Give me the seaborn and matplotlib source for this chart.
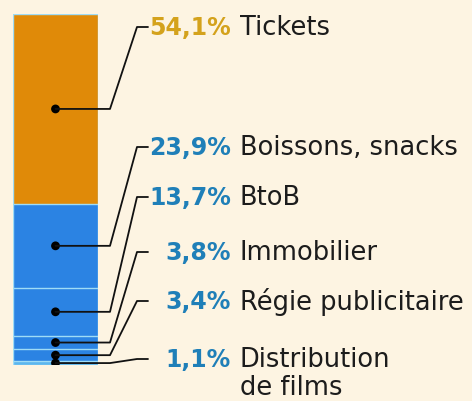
import numpy as np
import pandas as pd
import seaborn as sns
import matplotlib.pyplot as plt
from matplotlib.lines import Line2D

# data, top to bottom of the stacked bar
categories = ["Tickets", "Boissons, snacks", "BtoB", "Immobilier",
              "Régie publicitaire", "Distribution\nde films"]
shares = [54.1, 23.9, 13.7, 3.8, 3.4, 1.1]
pct_labels = ["54,1%", "23,9%", "13,7%", "3,8%", "3,4%", "1,1%"]

seg_colors = ["#e08a08", "#2b83e3", "#2b83e3", "#2b83e3", "#2b83e3", "#5cb6ee"]
pct_colors = ["#d4a21c"] + ["#1f7fb8"] * 5
BG = "#fdf4e2"

# layout in pixels (472x402 canvas)
W, H = 472, 402
BAR_L, BAR_R, BAR_T, BAR_B = 13, 98, 15, 366
ELBOW_X, DIAG_X, DASH_X = 110, 137, 148
PCT_X, NAME_X = 231, 240
label_y = [28, 148, 198, 253, 302, 360]
LINE_GAP = 28

sns.set_style("white")
plt.rcParams["font.family"] = ["DejaVu Sans"]

fig = plt.figure(figsize=(W / 100, H / 100), dpi=100, facecolor=BG)
ax = fig.add_axes([BAR_L / W, 1 - BAR_B / H, (BAR_R - BAR_L) / W, (BAR_B - BAR_T) / H])
ax.set_facecolor(BG)

df = pd.DataFrame({"cat": categories, "share": shares})
df["end"] = df["share"].cumsum()
df["mid"] = df["end"] - df["share"] / 2

# stacked bar: draw cumulative bars from the longest to the shortest
for i in reversed(range(len(df))):
    sns.barplot(x=[0], y=[df["end"][i]], color=seg_colors[i], width=1,
                edgecolor="#9fdcf6", linewidth=1.0, saturation=1, ax=ax)

sns.scatterplot(x=np.zeros(len(df)), y=df["mid"], color="black", s=40,
                edgecolor="none", zorder=5, ax=ax)

ax.set_xlim(-0.5, 0.5)
ax.set_ylim(100, 0)
ax.axis("off")

to_fig = fig.transFigure.inverted()
for i, row in df.iterrows():
    # dot position in pixels, through the bar axes' own scale
    px, py = ax.transData.transform((0, row["mid"]))
    dot_y = H - py
    xs = [px, ELBOW_X, DIAG_X, DASH_X]
    ys = [dot_y, dot_y, label_y[i], label_y[i]]
    pts = to_fig.transform(np.column_stack([xs, H - np.array(ys)]))
    fig.add_artist(Line2D(pts[:, 0], pts[:, 1], color="#111111", lw=1.3,
                          transform=fig.transFigure))

    fig.text(PCT_X / W, 1 - label_y[i] / H, pct_labels[i], ha="right", va="center",
             fontsize=17, fontweight="bold", color=pct_colors[i])
    for k, line in enumerate(row["cat"].split("\n")):
        fig.text(NAME_X / W, 1 - (label_y[i] + LINE_GAP * k) / H, line, ha="left",
                 va="center", fontsize=18.5, color="#1c1c1c")

fig.savefig("out.png", dpi=100, facecolor=BG)
